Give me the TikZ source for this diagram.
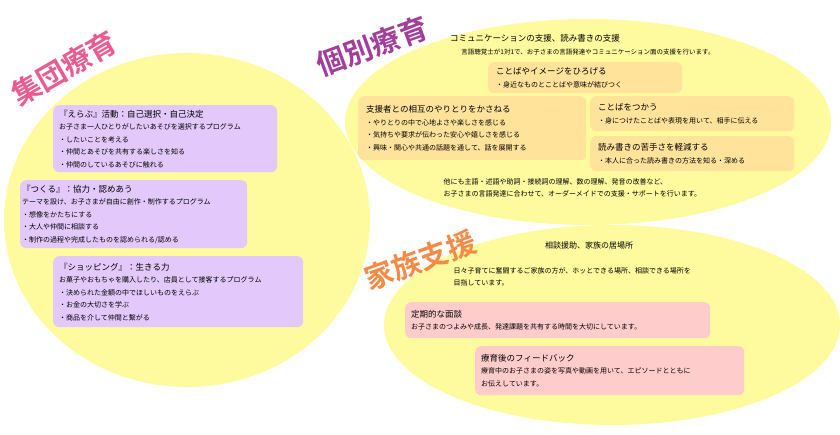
\documentclass[tikz,border=0pt]{standalone}
\usepackage{fontspec}
\setmainfont{Noto Sans CJK JP}[BoldFont={Noto Sans CJK JP Bold}]
\definecolor{blobyellow}{HTML}{FEFB9E}
\definecolor{boxpurple}{HTML}{E3C9FB}
\definecolor{boxorange}{HTML}{FFE39B}
\definecolor{boxpink}{HTML}{FFCCCC}
\definecolor{titlepink}{HTML}{EA5B90}
\definecolor{titlemagenta}{HTML}{A23E9C}
\definecolor{titleorange}{HTML}{F38A45}
\begin{document}
\begin{tikzpicture}[x=1pt,y=-1pt,
  blob/.style={fill=blobyellow},
  card/.style={rounded corners=6pt, anchor=north west, align=left, inner xsep=6pt, inner ysep=3pt,
    font=\fontsize{7}{12.5}\selectfont},
  purplecard/.style={card, fill=boxpurple},
  orangecard/.style={card, fill=boxorange},
  pinkcard/.style={card, fill=boxpink},
  bigtitle/.style={font=\bfseries\fontsize{29}{29}\selectfont, inner sep=0pt},
  note/.style={font=\fontsize{7}{12.5}\selectfont, align=left}]
  \useasboundingbox (0,0) rectangle (840,435);
  % yellow areas
  \fill[blob] (187,220) ellipse [x radius=183, y radius=167];
  \fill[blob] (588,122) ellipse [x radius=243, y radius=103];
  \fill[blob] (612,325) ellipse [x radius=228, y radius=100];
  % titles
  \node[bigtitle, text=titlepink] (shudan) at (64,68) {\rotatebox{30}{集団療育}};
  \node[bigtitle, text=titlemagenta] (kobetsu) at (372,46) {\rotatebox{20}{個別療育}};
  \node[bigtitle, text=titleorange] (kazoku) at (420,260) {\rotatebox{20}{家族支援}};
  % group care
  \node[purplecard, text width=212pt, minimum height=67pt] (erabu) at (53,105)
    {{\fontsize{8.5}{12}\selectfont 『えらぶ』活動：自己選択・自己決定}\\
     お子さま一人ひとりがしたいあそびを選択するプログラム\\
     ・したいことを考える\\ ・仲間とあそびを共有する楽しさを知る\\ ・仲間のしているあそびに触れる};
  \node[purplecard, text width=223pt, minimum height=68pt, inner xsep=2pt] (tsukuru) at (20,180)
    {{\fontsize{8.5}{12}\selectfont 『つくる』：協力・認めあう}\\
     テーマを設け、お子さまが自由に創作・制作するプログラム\\
     ・想像をかたちにする\\ ・大人や仲間に相談する\\ ・制作の過程や完成したものを認められる/認める};
  \node[purplecard, text width=238pt, minimum height=71pt] (shopping) at (53,256)
    {{\fontsize{8.5}{12}\selectfont 『ショッピング』：生きる力}\\
     お菓子やおもちゃを購入したり、店員として接客するプログラム\\
     ・決められた金額の中でほしいものをえらぶ\\ ・お金の大切さを学ぶ\\ ・商品を介して仲間と繋がる};
  % individual care
  \node[font=\fontsize{8.5}{12}\selectfont] (kobetsuhead) at (535,38) {コミュニケーションの支援、読み書きの支援};
  \node[note, font=\fontsize{6.5}{10}\selectfont] (kobetsulead) at (588,52) {言語聴覚士が1対1で、お子さまの言語発達やコミュニケーション面の支援を行います。};
  \node[orangecard, text width=178pt, minimum height=31pt, inner xsep=8pt] (hirogeru) at (488,62)
    {{\fontsize{8.5}{12}\selectfont ことばやイメージをひろげる}\\ ・身近なものとことばや意味が結びつく};
  \node[orangecard, text width=212pt, minimum height=64pt, inner xsep=8pt] (sogo) at (358,96)
    {{\fontsize{8.5}{12}\selectfont 支援者との相互のやりとりをかさねる}\\
     ・やりとりの中で心地よさや楽しさを感じる\\ ・気持ちや要求が伝わった安心や嬉しさを感じる\\ ・興味・関心や共通の話題を通して、話を展開する};
  \node[orangecard, text width=188pt, minimum height=35pt, inner xsep=8pt] (tsukau) at (590,96)
    {{\fontsize{8.5}{12}\selectfont ことばをつかう}\\ ・身につけたことばや表現を用いて、相手に伝える};
  \node[orangecard, text width=188pt, minimum height=35pt, inner xsep=8pt] (yomikaki) at (590,136)
    {{\fontsize{8.5}{12}\selectfont 読み書きの苦手さを軽減する}\\ ・本人に合った読み書きの方法を知る・深める};
  \node[note, anchor=north west] (kobetsutail) at (440,175) {他にも主語・述語や助詞・接続詞の理解、数の理解、発音の改善など、\\ お子さまの言語発達に合わせて、オーダーメイドでの支援・サポートを行います。};
  % family support
  \node[note, font=\fontsize{8}{12}\selectfont] (kazokuhead) at (589,245) {相談援助、家族の居場所};
  \node[note, anchor=north west] (kazokulead) at (450,264) {日々子育てに奮闘するご家族の方が、ホッとできる場所、相談できる場所を\\ 目指しています。};
  \node[pinkcard, text width=293pt, minimum height=36pt] (mendan) at (405,302)
    {{\fontsize{8.5}{12}\selectfont 定期的な面談}\\ お子さまのつよみや成長、発達課題を共有する時間を大切にしています。};
  \node[pinkcard, text width=257pt, minimum height=49pt] (feedback) at (475,346)
    {{\fontsize{8.5}{12}\selectfont 療育後のフィードバック}\\ 療育中のお子さまの姿を写真や動画を用いて、エピソードとともに\\ お伝えしています。};
\end{tikzpicture}
\end{document}
